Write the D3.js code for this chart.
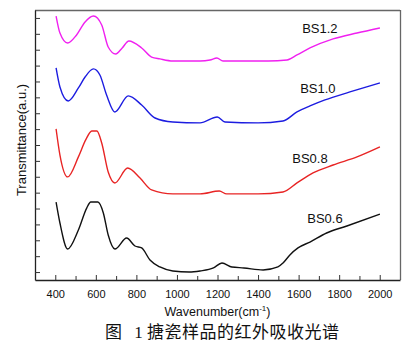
<!DOCTYPE html>
<html><head><meta charset="utf-8">
<script src="https://cdn.jsdelivr.net/npm/d3@7"></script>
<style>body{margin:0;background:#fff}svg{display:block}</style>
</head><body>
<svg id="c" width="414" height="349"></svg>
<script>
// Wavenumber (cm-1) and transmittance (a.u., offset per sample)
const bs12x = [404,423,461,505,547,588,629,661,698,730,763,826,875,916,980,1114,1163,1197,1227,1350,1450,1543,1592,1656,1770,1888,2001];
const bs12y = [16.62,15.55,14.92,15.43,16.25,16.62,16.06,14.67,14.23,14.61,15.05,14.61,14.04,13.92,13.79,13.79,13.85,13.98,13.79,13.79,13.79,13.85,14.17,14.61,15.18,15.55,15.87];
const bs10x = [404,423,464,514,547,588,620,653,694,760,826,892,980,1114,1199,1237,1400,1523,1592,1656,1730,1853,2001];
const bs10y = [13.35,12.15,11.27,12.09,12.78,13.29,12.91,11.65,10.58,11.59,11.02,10.20,9.95,9.89,10.26,9.95,9.89,10.01,10.58,10.96,11.34,11.84,12.41];
const bs08x = [404,423,461,514,550,580,605,629,661,694,757,818,875,980,1114,1209,1245,1400,1523,1592,1671,1770,1888,2001];
const bs08y = [9.51,7.87,6.49,7.75,8.82,9.38,9.38,8.63,6.80,6.11,7.05,6.42,5.67,5.42,5.42,5.60,5.42,5.42,5.54,6.11,6.74,7.24,7.75,8.38];
const bs06x = [404,423,461,514,555,575,610,637,661,694,752,793,826,867,916,980,1060,1114,1180,1222,1271,1330,1425,1498,1523,1557,1597,1656,1738,1838,2001];
const bs06y = [4.91,3.59,1.95,3.15,4.53,4.91,4.91,4.22,2.83,1.95,2.64,2.14,2.02,1.26,0.82,0.57,0.50,0.57,0.76,1.07,0.82,0.76,0.63,0.82,1.07,1.58,2.02,2.39,2.96,3.40,4.15];
const seriesNames = ["BS1.2","BS1.0","BS0.8","BS0.6"];
const seriesColors = ["#f020f0","#1c1ce0","#e82424","#111111"];
const xTicks = [400,600,800,1000,1200,1400,1600,1800,2000];
const xMinor = [500,700,900,1100,1300,1500,1700,1900];
const yTicks = [0.5,1.5,2.5,3.5,4.5,5.5,6.5,7.5,8.5,9.5,10.5,11.5,12.5,13.5,14.5,15.5,16.5];
const labelPos = [[1705,15.55],[1695,11.78],[1656,7.37],[1730,3.59]];

const svg = d3.select("#c");
const m = {l:35, r:400, t:10, b:280};
const x = d3.scaleLinear().domain([300,2100]).range([m.l,m.r]);
const y = d3.scaleLinear().domain([0,17]).range([m.b,m.t]);

const font = "Arial, 'Liberation Sans', sans-serif";

// frame
svg.append("line").attr("x1",m.l).attr("x2",m.r).attr("y1",m.t+0.5).attr("y2",m.t+0.5).attr("stroke","#666").attr("stroke-width",1.3);
svg.append("line").attr("x1",m.r+0.5).attr("x2",m.r+0.5).attr("y1",m.t).attr("y2",m.b).attr("stroke","#666").attr("stroke-width",1.3);

// axes
const xAx = svg.append("g").attr("transform",`translate(0,${m.b})`)
  .call(d3.axisBottom(x).tickValues(xTicks).tickSizeInner(-5).tickSizeOuter(0).tickPadding(10).tickFormat(d3.format("d")));
const xAxMinor = svg.append("g").attr("transform",`translate(0,${m.b})`)
  .call(d3.axisBottom(x).tickValues(xMinor).tickSizeInner(-4).tickSizeOuter(0).tickFormat(""));
xAxMinor.select(".domain").remove();
const yAx = svg.append("g").attr("transform",`translate(${m.l},0)`)
  .call(d3.axisLeft(y).tickValues(yTicks).tickSizeInner(-5).tickSizeOuter(0).tickFormat(""));
[xAx,xAxMinor,yAx].forEach(g=>{
  g.selectAll("path.domain").attr("stroke","#222").attr("stroke-width",1.3);
  g.selectAll(".tick line").attr("stroke","#333").attr("stroke-width",1);
});
xAx.selectAll("text").attr("font-family",font).attr("font-size",11).attr("fill","#111");

// curves
const line = d3.line().x(d=>x(d[0])).y(d=>y(d[1])).curve(d3.curveMonotoneX);
const allX = [bs12x,bs10x,bs08x,bs06x], allY=[bs12y,bs10y,bs08y,bs06y];
allX.forEach((xs,i)=>{
  const data = xs.map((v,j)=>[v,allY[i][j]]);
  svg.append("path").datum(data).attr("d",line).attr("fill","none")
    .attr("stroke",seriesColors[i]).attr("stroke-width",1.4);
  svg.append("text").attr("x",x(labelPos[i][0])).attr("y",y(labelPos[i][1]))
    .attr("text-anchor","middle").attr("font-family",font).attr("font-size",13).attr("fill","#111")
    .text(seriesNames[i]);
});

// axis titles
svg.append("text").attr("transform",`translate(26,140) rotate(-90)`).attr("text-anchor","middle")
  .attr("font-family",font).attr("font-size",13).attr("fill","#111").text("Transmittance(a.u.)");
const xt = svg.append("text").attr("x",(m.l+m.r)/2).attr("y",316).attr("text-anchor","middle")
  .attr("font-family",font).attr("font-size",12.5).attr("fill","#111");
xt.append("tspan").text("Wavenumber(cm");
xt.append("tspan").attr("font-size",8).attr("dy",-5).text("-1");
xt.append("tspan").attr("dy",5).text(")");

// caption
const cap = svg.append("text").attr("x",105).attr("y",338).attr("font-family","'Noto Sans CJK SC', sans-serif").attr("font-size",17).attr("fill","#111");
cap.append("tspan").text("图");
cap.append("tspan").attr("dx",8).attr("font-family","'Liberation Serif', serif").text(" 1 ");
cap.append("tspan").attr("letter-spacing",0.5).text("搪瓷样品的红外吸收光谱");
</script>
</body></html>
